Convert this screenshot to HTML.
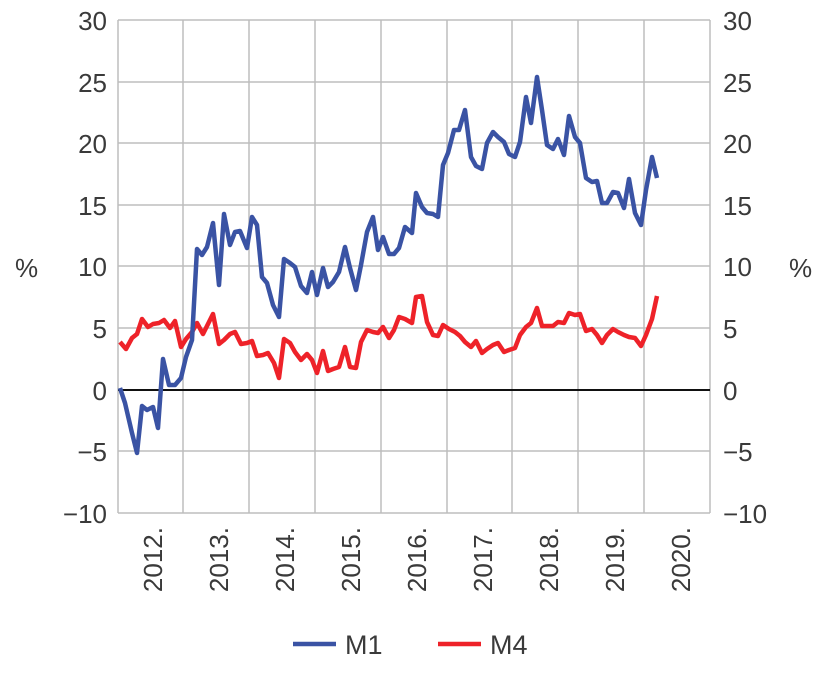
<!DOCTYPE html>
<html><head><meta charset="utf-8"><style>
body{margin:0;background:#fff;}
svg text{font-family:"Liberation Sans",Arial,sans-serif;fill:#3a3a3a;font-size:26px;}
</style></head><body>
<svg width="828" height="686" viewBox="0 0 828 686" xmlns="http://www.w3.org/2000/svg">
<g stroke="#bdbdbd" stroke-width="1.5" fill="none">
<line x1="118" y1="20" x2="710" y2="20"/>
<line x1="118" y1="82" x2="710" y2="82"/>
<line x1="118" y1="143" x2="710" y2="143"/>
<line x1="118" y1="205" x2="710" y2="205"/>
<line x1="118" y1="266" x2="710" y2="266"/>
<line x1="118" y1="328" x2="710" y2="328"/>
<line x1="118" y1="451" x2="710" y2="451"/>
<line x1="118" y1="513" x2="710" y2="513"/>
<line x1="118" y1="20" x2="118" y2="513"/>
<line x1="183" y1="20" x2="183" y2="513"/>
<line x1="249" y1="20" x2="249" y2="513"/>
<line x1="315" y1="20" x2="315" y2="513"/>
<line x1="381" y1="20" x2="381" y2="513"/>
<line x1="447" y1="20" x2="447" y2="513"/>
<line x1="512" y1="20" x2="512" y2="513"/>
<line x1="578" y1="20" x2="578" y2="513"/>
<line x1="644" y1="20" x2="644" y2="513"/>
<line x1="710" y1="20" x2="710" y2="513"/>
</g>
<line x1="118" y1="390" x2="710" y2="390" stroke="#111" stroke-width="2"/>
<g text-anchor="end">
<text x="107" y="30">30</text><text x="107" y="92">25</text><text x="107" y="153">20</text><text x="107" y="215">15</text><text x="107" y="276">10</text><text x="107" y="338">5</text><text x="107" y="400">0</text><text x="107" y="461">−5</text><text x="107" y="523">−10</text>
</g>
<g text-anchor="start">
<text x="723" y="30">30</text><text x="723" y="92">25</text><text x="723" y="153">20</text><text x="723" y="215">15</text><text x="723" y="276">10</text><text x="723" y="338">5</text><text x="723" y="400">0</text><text x="723" y="461">−5</text><text x="723" y="523">−10</text>
</g>
<text x="15" y="277">%</text><text x="789" y="277">%</text>
<g text-anchor="end" style="font-size:28px">
<text transform="translate(162,527) rotate(-90)">2012.</text>
<text transform="translate(228,527) rotate(-90)">2013.</text>
<text transform="translate(294,527) rotate(-90)">2014.</text>
<text transform="translate(360,527) rotate(-90)">2015.</text>
<text transform="translate(426,527) rotate(-90)">2016.</text>
<text transform="translate(492,527) rotate(-90)">2017.</text>
<text transform="translate(558,527) rotate(-90)">2018.</text>
<text transform="translate(624,527) rotate(-90)">2019.</text>
<text transform="translate(690,527) rotate(-90)">2020.</text>
</g>
<polyline fill="none" stroke="#ee2229" stroke-width="4.5" stroke-linejoin="round" points="120,342 126,349 132,338 137,334 142,319 148,327 153,324 159,323 164,320 170,328 175,321 181,347 186,339 192,332 197,323 203,334 208,324 213,314 219,344 224,340 230,334 235,332 241,344 247,343 252,341 257,356 263,355 268,353 274,363 279,378 284,339 290,343 295,352 301,360 307,354 312,360 317,373 323,351 328,371 333,369 339,367 345,347 350,367 356,368 361,342 367,330 373,332 378,333 383,327 389,338 394,330 399,317 405,319 412,323 416,297 422,296 427,322 433,335 438,336 443,325 449,329 455,332 460,336 465,342 471,347 476,341 482,353 487,349 493,345 498,343 504,352 509,350 515,348 520,335 526,327 531,323 537,308 542,326 547,326 553,326 558,322 564,323 569,313 575,315 580,314 586,331 592,329 597,335 602,343 607,335 613,329 618,332 624,335 629,337 635,338 641,346 646,335 652,319 657,296"/>
<polyline fill="none" stroke="#3a53a4" stroke-width="4.5" stroke-linejoin="round" points="120,388 125,403 132,433 137,453 142,406 147,410 153,407 158,428 163,359 169,385 175,385 181,378 186,357 192,340 197,249 202,255 207,247 213,223 219,285 224,214 230,245 235,232 240,231 247,248 252,217 257,225 262,277 267,283 273,305 279,317 284,259 290,263 295,267 301,286 307,293 312,272 317,295 323,268 328,287 333,282 339,272 345,247 350,268 356,290 361,265 367,232 373,217 378,250 383,237 389,254 394,254 399,248 405,227 412,233 416,193 422,207 427,213 433,214 438,217 443,165 448,153 454,130 459,130 465,110 471,157 476,166 482,169 487,143 493,132 498,137 504,142 509,154 515,157 520,142 526,97 531,123 537,77 542,110 547,145 553,149 558,139 564,155 569,116 575,137 580,143 586,178 592,182 597,181 602,203 607,203 613,192 618,193 624,208 629,179 635,213 641,225 646,190 652,157 657,178"/>
<line x1="293" y1="644" x2="336" y2="644" stroke="#3a53a4" stroke-width="4.5"/>
<text x="345" y="654" style="font-size:27px">M1</text>
<line x1="438" y1="644" x2="481" y2="644" stroke="#ee2229" stroke-width="4.5"/>
<text x="490" y="654" style="font-size:27px">M4</text>
</svg>
</body></html>
